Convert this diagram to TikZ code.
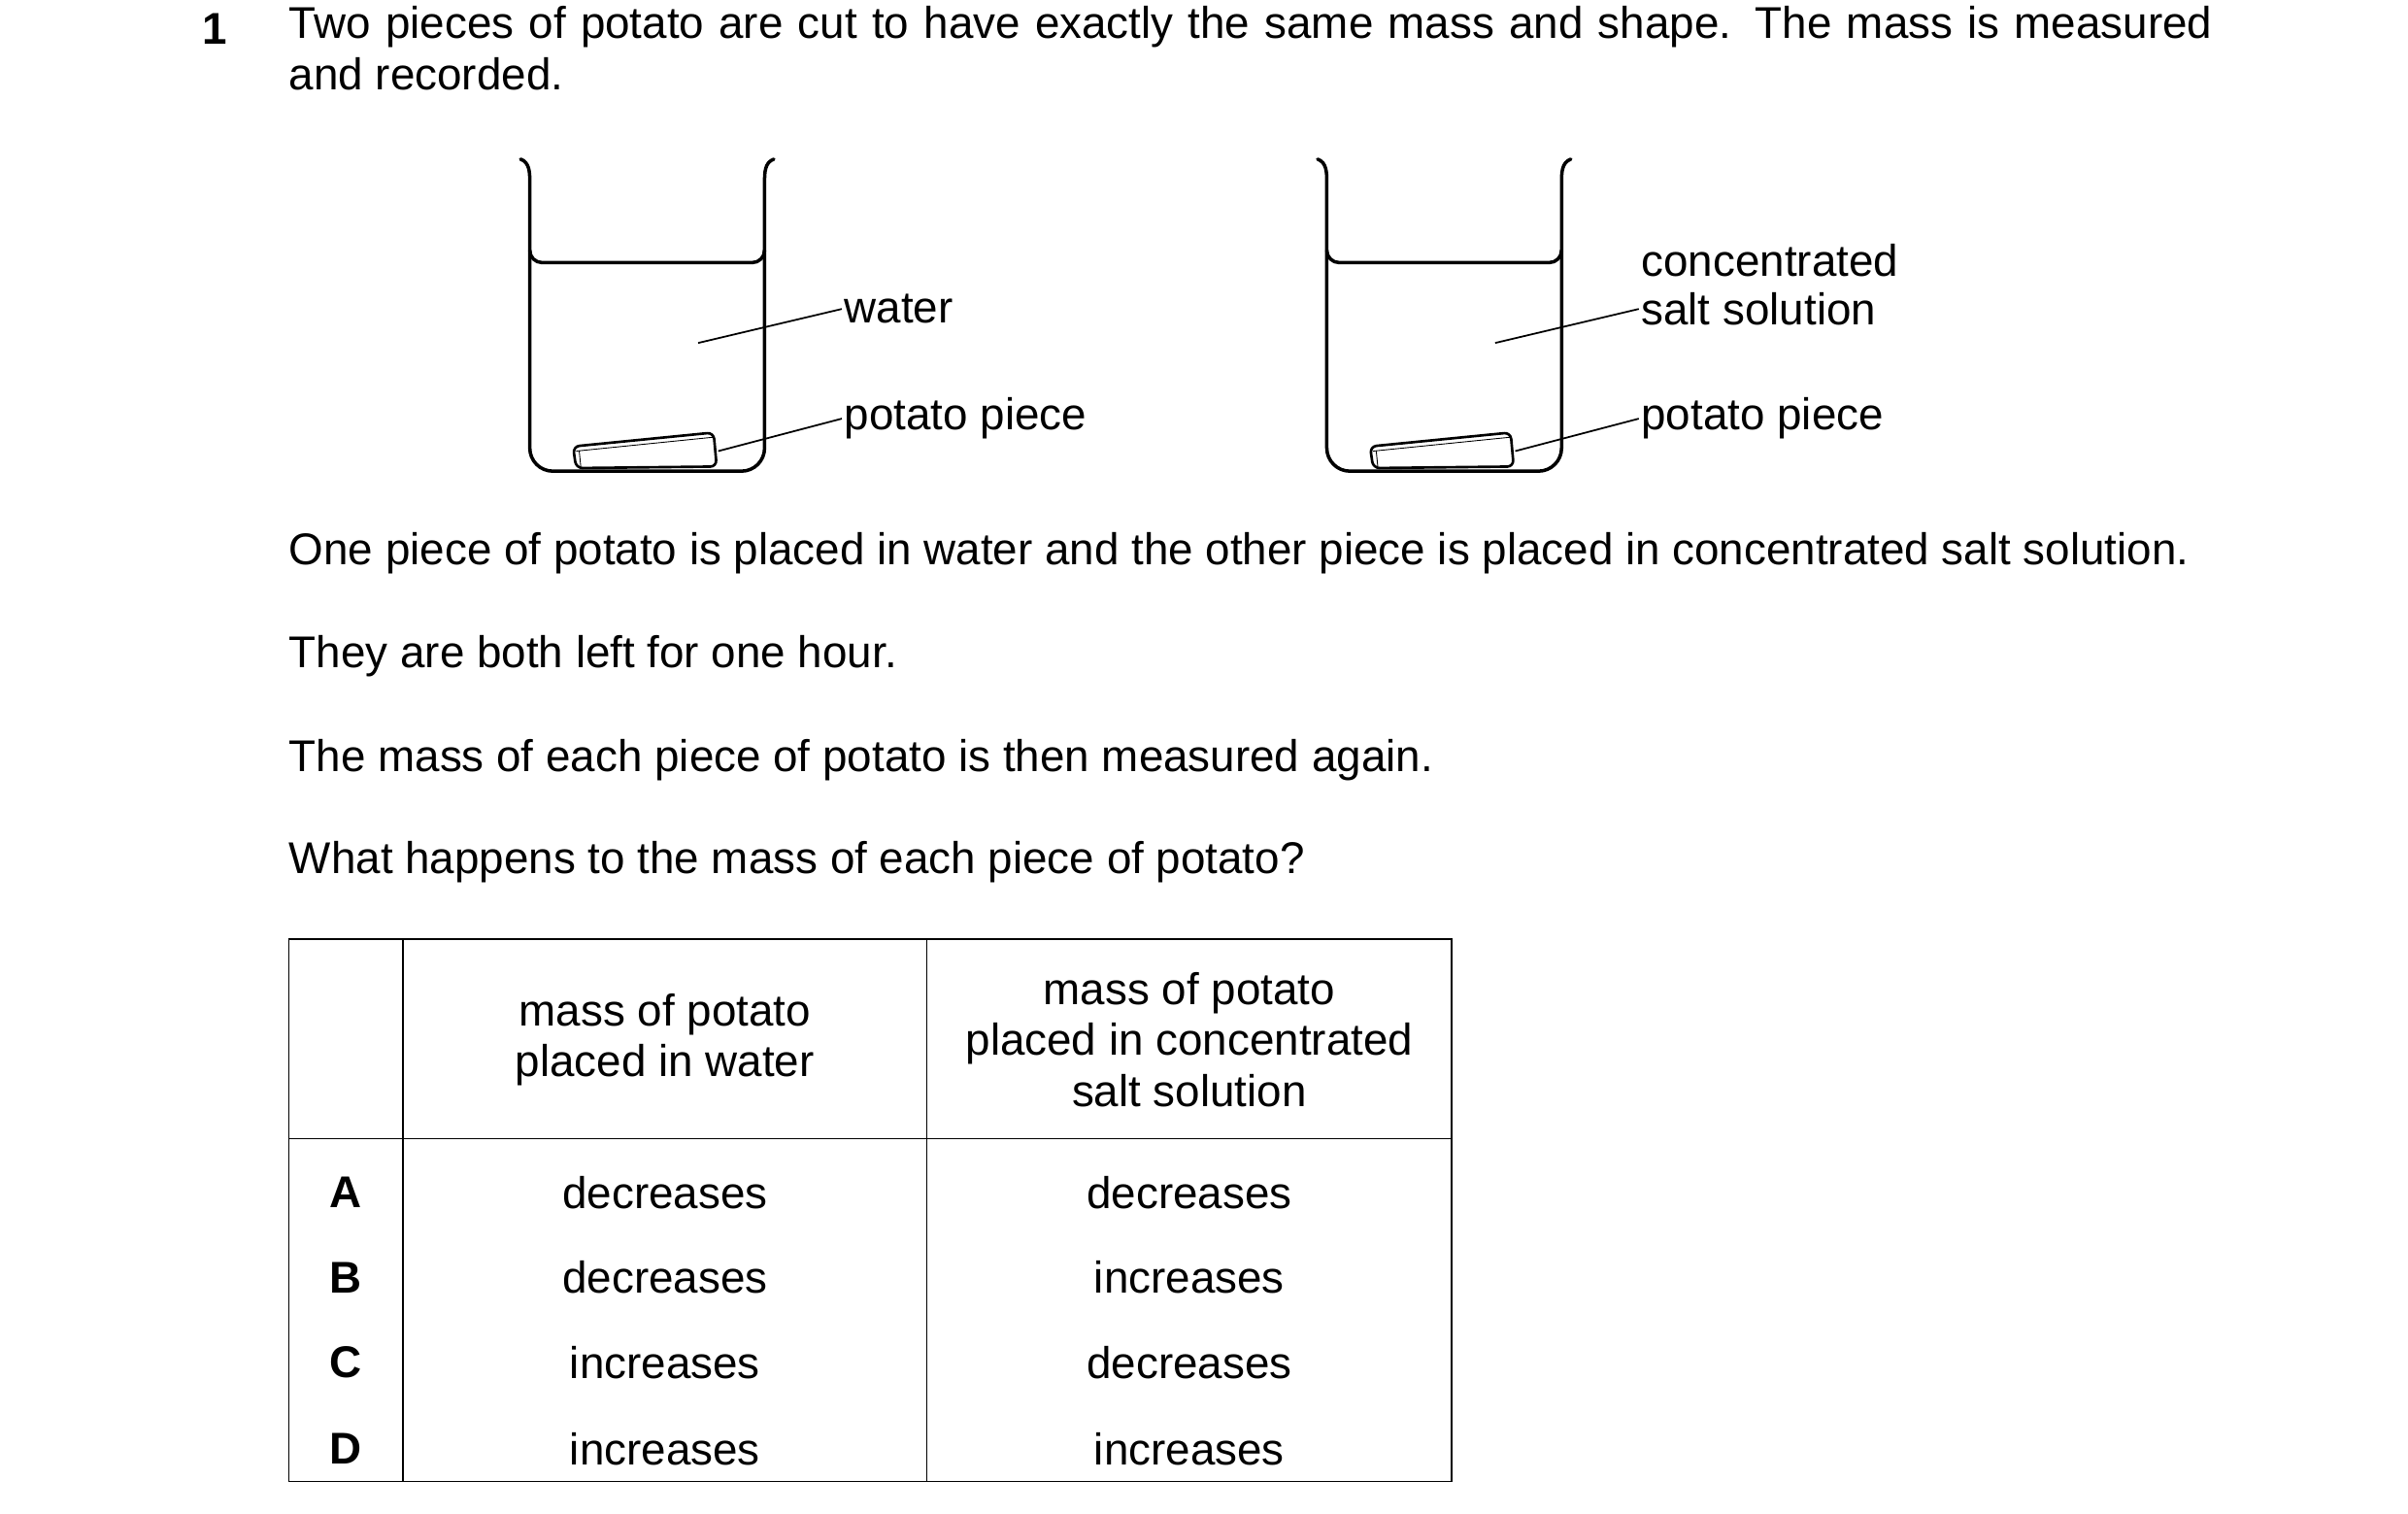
\documentclass[tikz,border=0pt]{standalone}
\usepackage{fontspec}
\setmainfont{Liberation Sans}
\usetikzlibrary{positioning}
\tikzset{
  txt/.style={anchor=west,inner sep=0pt,font=\fontsize{20.8}{23.8}\selectfont},
  cell/.style={inner sep=0pt,align=center,font=\fontsize{20.8}{23.8}\selectfont},
  lbl/.style={anchor=west,inner sep=1pt,font=\fontsize{20.8}{25}\selectfont},
  glass/.style={line width=1.6pt,line join=round,line cap=round}
}
\begin{document}
\begin{tikzpicture}[x=0.0254cm,y=-0.0254cm]
\useasboundingbox (0,0) rectangle (1559,980);
% question text
\node[txt,font=\bfseries\fontsize{20.8}{23.8}\selectfont] (num) at (131,19) {1};
\node[txt,anchor=north west,text width=900pt,align=justify] (intro) at (187,4)
  {Two pieces of potato are cut to have exactly the same mass and shape. The mass is measured and recorded.};
% beakers
\foreach \dx/\nm in {0/w,516/s}{
\begin{scope}[xshift=\dx*0.0254cm]
  \draw[glass] (337,103) to[out=-20,in=90] (343,118) -- (343,290)
    to[out=-90,in=180] (358,305) -- (480,305) to[out=0,in=-90] (495,290)
    -- (495,118) to[out=90,in=200] (501,103);
  \draw[glass] (343,162) to[out=-90,in=180] (351,170) -- (487,170) to[out=0,in=-90] (495,162);
  \draw[line width=1.2pt,rounded corners=3pt] (371,289) -- (462,280) -- (464,302) -- (373,303) -- cycle;
  \draw[line width=0.4pt] (373,292) -- (462,283) (375,292) -- (376,302);
  \coordinate (\nm liq) at (452,222);
  \coordinate (\nm pot) at (465,292);
\end{scope}}
\node[lbl] (water) at (545,200) {water};
\node[lbl] (wpiece) at (545,271) {potato piece};
\node[lbl,anchor=south west] (conc) at (1061,181) {concentrated};
\node[lbl] (salt) at (1061,200) {salt solution};
\node[lbl] (spiece) at (1061,271) {potato piece};
\draw[line width=0.8pt] (wliq) -- (water.west) (wpot) -- (wpiece.west)
  (sliq) -- (salt.west) (spot) -- (spiece.west);
% more text
\node[txt] (t1) at (187,358) {One piece of potato is placed in water and the other piece is placed in concentrated salt solution.};
\node[txt] (t2) at (187,425) {They are both left for one hour.};
\node[txt] (t3) at (187,492) {The mass of each piece of potato is then measured again.};
\node[txt] (t4) at (187,558) {What happens to the mass of each piece of potato?};
% table
\draw[line width=0.8pt] (187,608) rectangle (940,959);
\draw[line width=0.8pt] (261,608) -- (261,959) (600,608) -- (600,959) (187,737) -- (940,737);
\node[cell] (h1) at (430.5,673) {mass of potato\\placed in water};
\node[cell] (h2) at (770,673) {mass of potato\\placed in concentrated\\salt solution};
\foreach \y/\k/\a/\b in {772/A/decreases/decreases,827/B/decreases/increases,882/C/increases/decreases,938/D/increases/increases}{
  \node[cell,font=\bfseries\fontsize{20.8}{23.8}\selectfont] (k\k) at (224,\y) {\k};
  \node[cell] (a\k) at (430.5,\y) {\a};
  \node[cell] (b\k) at (770,\y) {\b};
}
\end{tikzpicture}
\end{document}
